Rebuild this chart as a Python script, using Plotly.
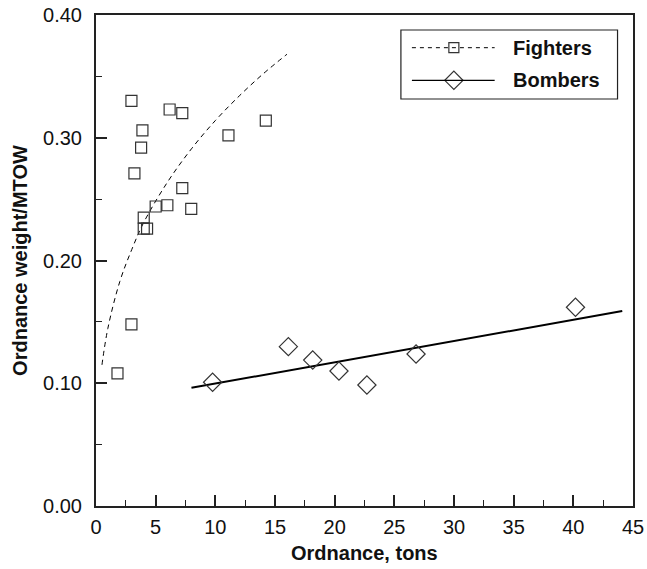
import plotly.graph_objects as go

# ---- data ----
fighter_tons = [1.8, 2.97, 2.97, 3.22, 3.78, 3.89, 4.0, 4.0, 4.28, 5.0, 5.98, 6.17, 7.23, 7.23, 7.98, 11.1, 14.23]
fighter_ratio = [0.108, 0.148, 0.330, 0.271, 0.292, 0.306, 0.235, 0.226, 0.226, 0.244, 0.245, 0.323, 0.320, 0.259, 0.242, 0.302, 0.314]

fighter_trend_tons = [0.5, 1, 2, 3, 4, 6, 8, 10, 12, 14, 16]
fighter_trend_ratio = [0.115, 0.145, 0.183, 0.209, 0.231, 0.264, 0.291, 0.314, 0.334, 0.352, 0.368]

bomber_tons = [9.77, 16.12, 18.16, 20.36, 22.7, 26.82, 40.18]
bomber_ratio = [0.1008, 0.1298, 0.1189, 0.110, 0.0986, 0.1238, 0.1619]

bomber_trend_tons = [8.0, 44.1]
bomber_trend_ratio = [0.0963, 0.1588]

x_ticks = [0, 5, 10, 15, 20, 25, 30, 35, 40, 45]
y_ticks = [0.0, 0.1, 0.2, 0.3, 0.4]
y_tick_labels = ["0.00", "0.10", "0.20", "0.30", "0.40"]

legend_names = ["Fighters", "Bombers"]
x_title = "Ordnance, tons"
y_title = "Ordnance weight/MTOW"

FONT = "Liberation Sans, Arial, Helvetica, sans-serif"
EDGE = "#333333"

fig = go.Figure()

fig.add_trace(go.Scatter(
    x=fighter_trend_tons, y=fighter_trend_ratio, mode="lines", line_shape="spline",
    line=dict(color="black", width=1, dash="5px,4px"), showlegend=False, hoverinfo="skip"))
fig.add_trace(go.Scatter(
    x=fighter_tons, y=fighter_ratio, mode="markers",
    marker=dict(symbol="square-open", size=11, color=EDGE, line=dict(width=1.2, color=EDGE)),
    showlegend=False))
fig.add_trace(go.Scatter(
    x=bomber_trend_tons, y=bomber_trend_ratio, mode="lines",
    line=dict(color="black", width=2), showlegend=False, hoverinfo="skip"))
fig.add_trace(go.Scatter(
    x=bomber_tons, y=bomber_ratio, mode="markers",
    marker=dict(symbol="diamond-open", size=14, color=EDGE, line=dict(width=1.2, color=EDGE)),
    showlegend=False))

# ---- custom legend (paper-coordinate overlay axes) ----
leg_box = dict(x0=0.5678, x1=0.9712, y0=0.8289, y1=0.9695)
row_y = [0.9334, 0.867]
line_x0, line_x1, mark_x, text_x = 0.5883, 0.7424, 0.6664, 0.7723

fig.add_shape(type="rect", xref="paper", yref="paper", **leg_box,
              line=dict(color="#222222", width=1.2), fillcolor="white", layer="below")
fig.add_shape(type="line", xref="paper", yref="paper", x0=line_x0, x1=line_x1, y0=row_y[0], y1=row_y[0],
              line=dict(color="black", width=1, dash="4px,4px"))
fig.add_shape(type="line", xref="paper", yref="paper", x0=line_x0, x1=line_x1, y0=row_y[1], y1=row_y[1],
              line=dict(color="black", width=1.3))
fig.add_trace(go.Scatter(
    x=[mark_x], y=[row_y[0]], xaxis="x2", yaxis="y2", mode="markers",
    marker=dict(symbol="square", size=10, color="white", line=dict(width=1.2, color=EDGE)),
    showlegend=False, hoverinfo="skip"))
fig.add_trace(go.Scatter(
    x=[mark_x], y=[row_y[1]], xaxis="x2", yaxis="y2", mode="markers",
    marker=dict(symbol="diamond", size=14, color="white", line=dict(width=1.2, color=EDGE)),
    showlegend=False, hoverinfo="skip"))
for name, ry in zip(legend_names, row_y):
    fig.add_annotation(x=text_x, y=ry, xref="paper", yref="paper", text=name, showarrow=False,
                       xanchor="left", yanchor="middle",
                       font=dict(family=FONT, size=20, color="#111111", weight="bold"))

# x-axis title as annotation below the axis
fig.add_annotation(x=0.5, y=0, xref="paper", yref="paper", text=x_title, showarrow=False,
                   xanchor="center", yanchor="middle", yshift=-47,
                   font=dict(family=FONT, size=20, color="#111111", weight="bold"))

axis_common = dict(
    showgrid=False, zeroline=False, showline=True, linecolor="#222222", linewidth=2, mirror=True,
    ticks="inside", tickcolor="#222222", tickwidth=2, ticklen=11, automargin=False,
    tickfont=dict(family=FONT, size=20, color="#111111"),
)

fig.update_layout(
    width=647, height=569,
    margin=dict(l=95.5, r=13.5, t=15, b=63),
    paper_bgcolor="white", plot_bgcolor="white",
    xaxis=dict(range=[0, 45], tickvals=x_ticks, ticktext=[str(v) for v in x_ticks],
               minor=dict(dtick=2.5, tick0=0, ticks="inside", ticklen=6, tickwidth=1, tickcolor="#222222"),
               ticklabelstandoff=2,
               **axis_common),
    yaxis=dict(range=[0, 0.4], tickvals=y_ticks, ticktext=y_tick_labels,
               minor=dict(dtick=0.05, tick0=0, ticks="inside", ticklen=6, tickwidth=1, tickcolor="#222222"),
               ticklabelstandoff=8,
               title=dict(text=y_title, standoff=10,
                          font=dict(family=FONT, size=20, color="#111111", weight="bold")),
               **axis_common),
    xaxis2=dict(overlaying="x", range=[0, 1], visible=False, fixedrange=True),
    yaxis2=dict(overlaying="y", range=[0, 1], visible=False, fixedrange=True),
    showlegend=False,
)

fig.write_html("out.html")
